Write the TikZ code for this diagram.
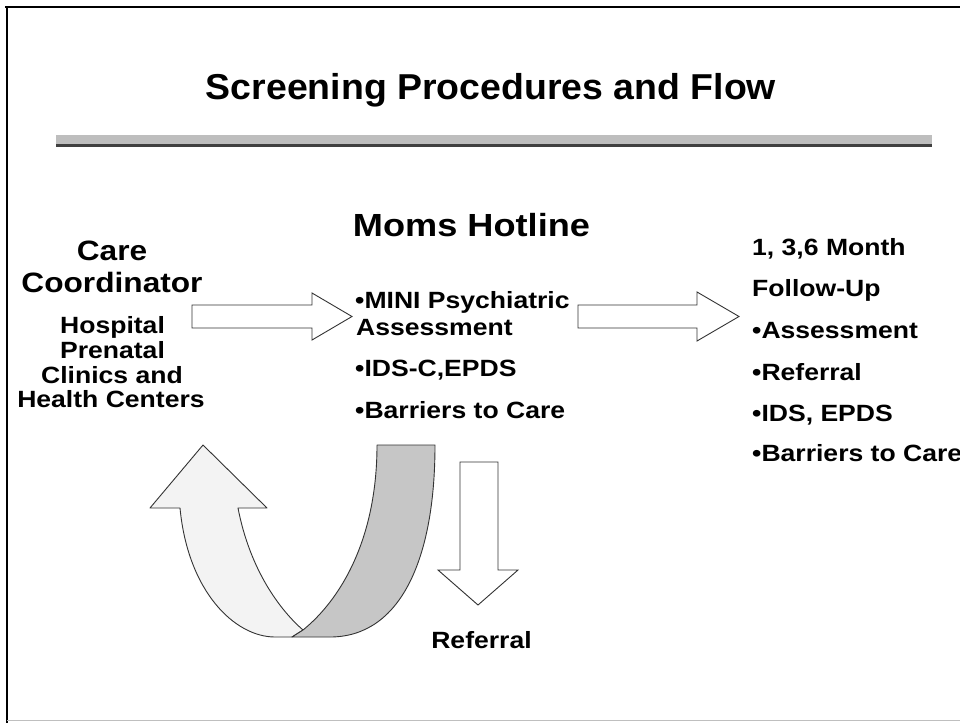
\documentclass[tikz,border=0pt]{standalone}
\usepackage{fontspec}
\setmainfont{Liberation Sans}
\newfontfamily\bodyfont{Liberation Sans}[FakeStretch=1.13]
\newfontfamily\titlefont{Liberation Sans}[FakeStretch=1.04]
\definecolor{lineg}{HTML}{333333}
\definecolor{bandg}{HTML}{C6C6C6}
\definecolor{lightg}{HTML}{F3F3F3}
\definecolor{barg}{HTML}{BEBEBE}
\tikzset{
  txt/.style={inner sep=0, text=black, font=\bodyfont\bfseries\fontsize{23.5}{28}\selectfont},
  bigtxt/.style={inner sep=0, text=black, font=\bodyfont\bfseries\fontsize{28}{32}\selectfont},
  headtxt/.style={inner sep=0, text=black, font=\bodyfont\bfseries\fontsize{32}{36}\selectfont},
  blockarrow/.style={draw=lineg, line width=0.9pt, fill=white, line join=miter},
  ribbon/.style={draw=lineg, line width=0.9pt, line join=round}
}
\begin{document}
\begin{tikzpicture}[x=1pt,y=-1pt]
\useasboundingbox (0,0) rectangle (960,723);
\fill[white] (0,0) rectangle (960,723);
% frame
\draw[black, line width=2pt] (5,7) -- (960,7);
\draw[black, line width=1.6pt] (7,7) -- (7,723);
\draw[gray!50, line width=0.8pt] (7,720) -- (960,720);
% title
\node[inner sep=0, anchor=base, font=\titlefont\bfseries\fontsize{36}{40}\selectfont] (title) at (491,99) {Screening Procedures and Flow};
% bar
\fill[barg] (56,135) rectangle (932,145);
\draw[black!75, line width=2.6pt] (56,145.5) -- (932,145.5);
% left column
\node[bigtxt, anchor=base] (care) at (112,260) {Care};
\node[bigtxt, anchor=base] (coord) at (112,292) {Coordinator};
\node[txt, anchor=base] (l1) at (112.5,333) {Hospital};
\node[txt, anchor=base] (l2) at (112.5,358) {Prenatal};
\node[txt, anchor=base] (l3) at (112,383) {Clinics and};
\node[txt, anchor=base] (l4) at (111,407) {Health Centers};
% middle column
\node[headtxt, anchor=base] (moms) at (471.5,236.5) {Moms Hotline};
\node[txt, anchor=base west] (m1) at (355,308.5) {•MINI Psychiatric};
\node[txt, anchor=base west] (m2) at (356,335.5) {Assessment};
\node[txt, anchor=base west] (m3) at (355,376.5) {•IDS-C,EPDS};
\node[txt, anchor=base west] (m4) at (355,418.5) {•Barriers to Care};
% right column
\node[txt, anchor=base west] (r1) at (752,255.5) {1, 3,6 Month};
\node[txt, anchor=base west] (r2) at (752,296.5) {Follow-Up};
\node[txt, anchor=base west] (r3) at (752,338.5) {•Assessment};
\node[txt, anchor=base west] (r4) at (752,380.5) {•Referral};
\node[txt, anchor=base west] (r5) at (752,421.5) {•IDS, EPDS};
\node[txt, anchor=base west] (r6) at (752,461.5) {•Barriers to Care};
% referral
\node[txt, anchor=base] (ref) at (481.5,648.5) {Referral};
% block arrows
\draw[blockarrow] (192,305) -- (312,305) -- (312,293) -- (352,316.5) -- (312,340) -- (312,328) -- (192,328) -- cycle;
\draw[blockarrow] (578,305) -- (697,305) -- (697,292) -- (739,316.5) -- (697,341) -- (697,328) -- (578,328) -- cycle;
\draw[blockarrow] (460,462) -- (498,462) -- (498,570) -- (518,570) -- (478,605) -- (438,570) -- (460,570) -- cycle;
% U-turn ribbon
\draw[ribbon, fill=lightg] (150,508) -- (203,445) -- (267,508) -- (238,508)
  .. controls (250,570) and (280,610) .. (303,630) -- (292,637) -- (275,637)
  .. controls (235,637) and (188,592) .. (180,508) -- cycle;
\draw[ribbon, fill=bandg] (377,445) -- (435,445)
  .. controls (435,560) and (400,637) .. (330,637) -- (292,637) -- (303,630)
  .. controls (340,600) and (377,540) .. (377,445) -- cycle;
\end{tikzpicture}
\end{document}
